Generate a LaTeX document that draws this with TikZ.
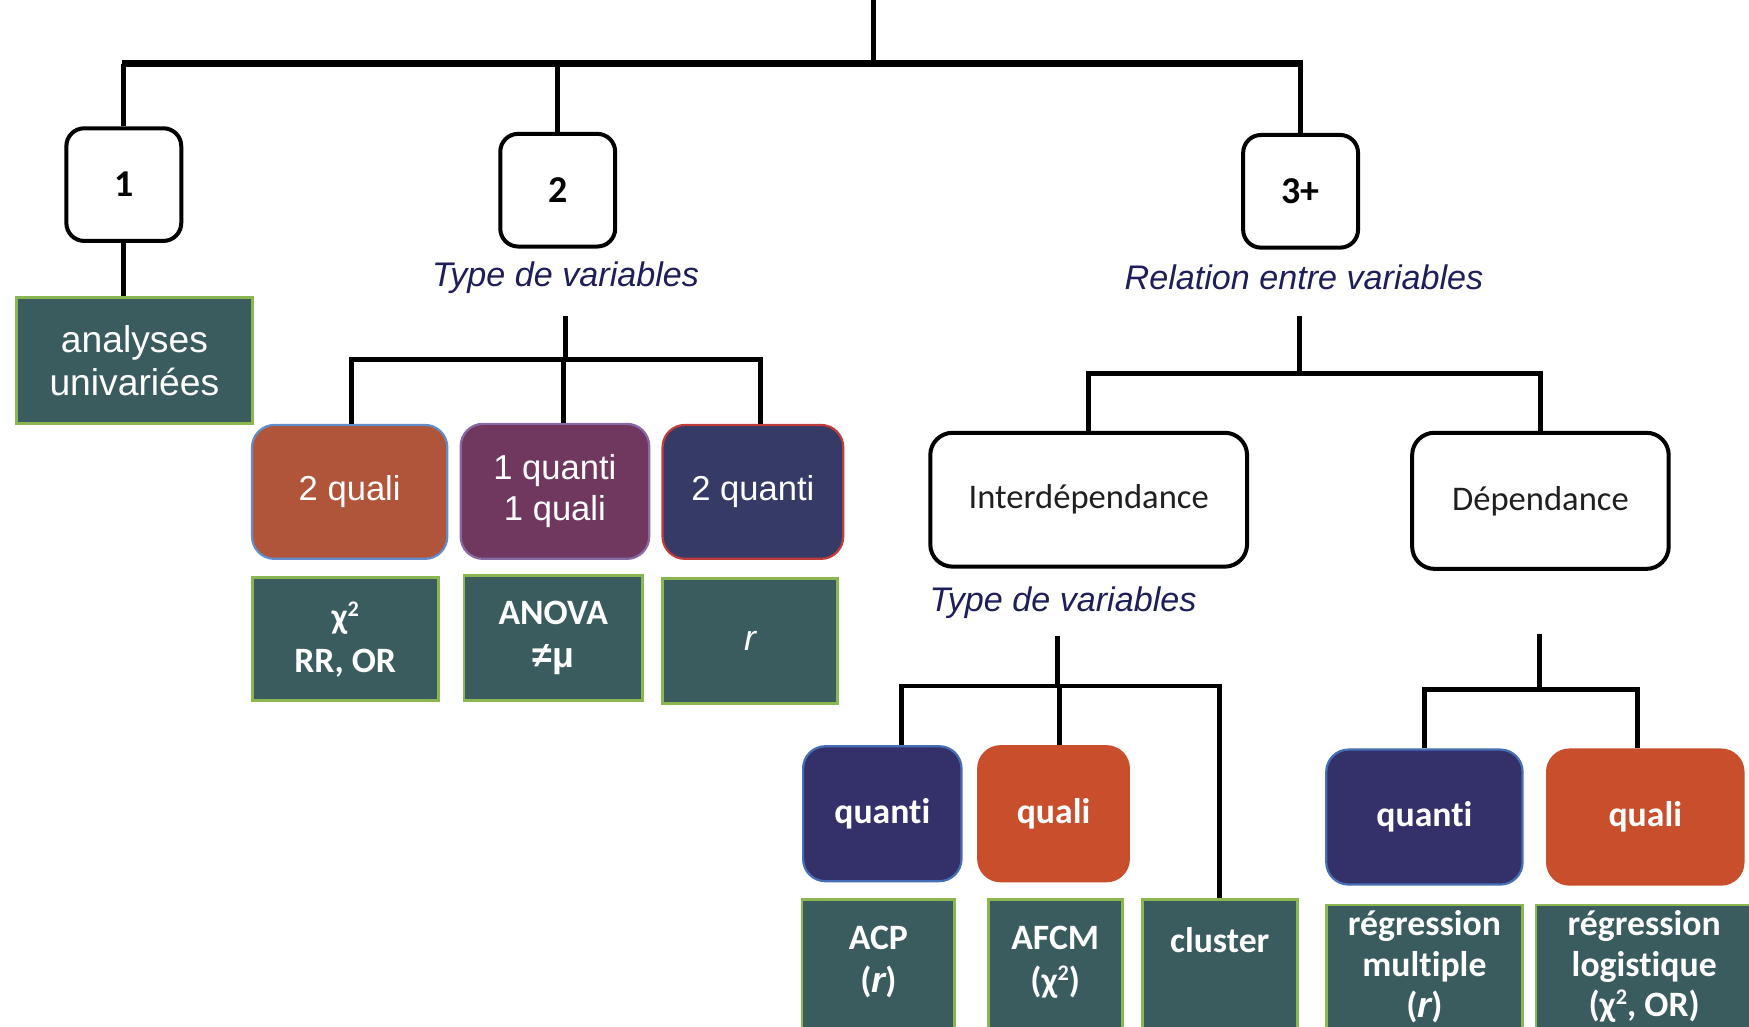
\documentclass[tikz,border=0pt]{standalone}
\usepackage{fontspec}
\setmainfont{Liberation Sans}
\newfontfamily\carl[Ligatures=NoCommon]{Carlito}
\definecolor{tealf}{RGB}{58,92,94}
\definecolor{tgreen}{RGB}{140,182,82}
\definecolor{cqlA}{RGB}{176,84,58}
\definecolor{cqlAb}{RGB}{100,140,200}
\definecolor{cmix}{RGB}{112,56,94}
\definecolor{cmixb}{RGB}{135,105,165}
\definecolor{cnavA}{RGB}{54,58,102}
\definecolor{cnavAb}{RGB}{190,60,60}
\definecolor{cnav}{RGB}{51,48,106}
\definecolor{cnavb}{RGB}{70,110,180}
\definecolor{corg}{RGB}{200,78,44}
\definecolor{labnavy}{RGB}{30,30,90}
\tikzset{
  wbox/.style={draw=black, line width=1.8pt, rounded corners=8pt, fill=white,
    font=\carl\bfseries\fontsize{17}{20}\selectfont, minimum width=51.5pt,
    minimum height=50.5pt, inner sep=0pt},
  wbig/.style={draw=black, line width=1.8pt, rounded corners=10pt, fill=white,
    text={black!88}, font=\carl\fontsize{15.5}{18}\selectfont, inner sep=0pt},
  tbox/.style={draw=tgreen, line width=1.3pt, fill=tealf, text=white,
    align=center, inner sep=0pt},
  tfont/.style={font=\carl\bfseries\fontsize{16}{19.5}\selectfont, text=white, align=center},
  cbox/.style={rounded corners=10pt, line width=1pt, text=white, align=center,
    inner sep=0pt, font=\fontsize{15.5}{18.5}\selectfont},
  dbox/.style={rounded corners=10pt, line width=1pt, text=white, align=center,
    inner sep=0pt, font=\carl\bfseries\fontsize{16}{19}\selectfont},
  lab/.style={font=\itshape\fontsize{15.3}{18}\selectfont, text=labnavy},
  conn/.style={line width=2.1pt},
  bar/.style={line width=3pt}
}
\begin{document}
\begin{tikzpicture}[x=0.5pt,y=-0.5pt]
\useasboundingbox (0,0) rectangle (1568,920);
\clip (0,0) rectangle (1568,920);
% level 1
\node[wbox] (b1) at (111,165.5) {1};
\node[wbox] (b2) at (500,170.5) {2};
\node[wbox] (b3) at (1166,171.5) {3+};
\coordinate (top) at (783,0);
\coordinate (tj) at (783,57);
\draw[conn] (top) -- (tj);
\draw[bar] ([xshift=-1pt]b1.north|-tj) -- ([xshift=1pt]b3.north|-tj);
\draw[conn] (b1.north|-tj) -- (b1.north);
\draw[conn] (b2.north|-tj) -- (b2.north);
\draw[conn] (b3.north|-tj) -- (b3.north);
% branch 1
\node[tbox, minimum width=105.5pt, minimum height=56.5pt,
  font=\fontsize{16.7}{19.5}\selectfont] (ana) at (120.5,323.5) {analyses\\univariées};
\draw[conn] (b1.south) -- (b1.south|-ana.north);
% branch 2
\node[lab] (tv1) at (507,249) {Type de variables};
\node[cbox, fill=cqlA, draw=cqlAb, minimum width=87.5pt, minimum height=60pt] (q2) at (313.5,441) {2 quali};
\node[cbox, fill=cmix, draw=cmixb, minimum width=84.5pt, minimum height=60.5pt] (q11) at (497.5,440.5) {1 quanti\\1 quali};
\node[cbox, fill=cnavA, draw=cnavAb, minimum width=81pt, minimum height=60pt] (qn2) at (675,441) {2 quanti};
\coordinate (t1a) at (507,283);
\coordinate (t1j) at (507,322);
\coordinate (t1l) at (315,322);
\coordinate (t1m) at (505,322);
\coordinate (t1r) at (682,322);
\draw[conn] (t1a) -- (t1j);
\draw[conn] ([xshift=-1pt]t1l) -- ([xshift=1pt]t1r);
\draw[conn] (t1l) -- (t1l|-q2.north);
\draw[conn] (t1m) -- (t1m|-q11.north);
\draw[conn] (t1r) -- (t1r|-qn2.north);
\node[tbox, tfont, minimum width=83.5pt, minimum height=55pt] (chi) at (309.5,573) {χ\raisebox{0.35em}{\fontsize{10}{10}\selectfont 2}\\RR, OR};
\node[tbox, tfont, minimum width=80pt, minimum height=56pt] (anova) at (496,572) {ANOVA\\{\rmfamily\bfseries ≠μ}};
\node[tbox, minimum width=78.5pt, minimum height=56pt, font=\fontsize{16}{19}\selectfont] (rr) at (672.5,575) {\itshape r};
% branch 3
\node[lab] (rel) at (1169,249) {Relation entre variables};
\node[wbig, minimum width=142pt, minimum height=60pt] (inter) at (976,448) {Interdépendance};
\node[wbig, minimum width=115pt, minimum height=61pt] (dep) at (1381,449) {Dépendance};
\coordinate (rv) at (1165,283);
\coordinate (rj) at (1165,335);
\draw[conn] (rv) -- (rj);
\draw[conn] (inter.north) -- (inter.north|-rj) -- (dep.north|-rj) -- (dep.north);
% interdependance
\node[lab] (tv2) at (953,540) {Type de variables};
\node[dbox, fill=cnav, draw=cnavb, minimum width=71pt, minimum height=60.5pt] (qt1) at (791,729.5) {quanti};
\node[dbox, fill=corg, draw=corg, minimum width=67.5pt, minimum height=60.5pt] (ql1) at (944.5,729.5) {quali};
\node[tbox, anchor=north, minimum width=68.5pt, minimum height=75pt] (acp) at (787.5,805) {};
\node[tbox, anchor=north, minimum width=60pt, minimum height=75pt] (afcm) at (946,805) {};
\node[tbox, anchor=north, minimum width=69.5pt, minimum height=75pt] (clu) at (1093.5,805) {};
\node[tfont] (acpt) at (787.5,862.5) {ACP\\({\rmfamily\itshape r})};
\node[tfont] (afcmt) at (946,862.5) {AFCM\\(χ\raisebox{0.35em}{\fontsize{10}{10}\selectfont 2})};
\node[tfont] (clut) at (1093.5,843) {cluster};
\coordinate (iv) at (948,570);
\coordinate (ij) at (948,615);
\coordinate (ia) at (808,615);
\coordinate (ib) at (950,615);
\draw[conn] (iv) -- (ij);
\draw[conn] ([xshift=-1pt]ia) -- ([xshift=1pt]clu.north|-ij);
\draw[conn] (ia) -- (ia|-qt1.north);
\draw[conn] (ib) -- (ib|-ql1.north);
\draw[conn] (clu.north|-ij) -- (clu.north);
% dependance
\node[dbox, fill=cnav, draw=cnavb, minimum width=88pt, minimum height=60.5pt] (qt2) at (1277,732.5) {quanti};
\node[dbox, fill=corg, draw=corg, minimum width=88pt, minimum height=60.5pt] (ql2) at (1475,732.5) {quali};
\node[tbox, anchor=north, minimum width=88pt, minimum height=70pt] (regm) at (1277,810) {};
\node[tbox, anchor=north, minimum width=97.5pt, minimum height=70pt] (regl) at (1474.5,810) {};
\node[tfont, font=\carl\bfseries\fontsize{16}{18.3}\selectfont] (regmt) at (1277,866.5) {régression\\multiple\\({\rmfamily\itshape r})};
\node[tfont, font=\carl\bfseries\fontsize{16}{18.3}\selectfont] (reglt) at (1474,866.5) {régression\\logistique\\(χ\raisebox{0.35em}{\fontsize{10}{10}\selectfont 2}, OR)};
\coordinate (dv) at (1380,568);
\coordinate (dj) at (1380,618);
\coordinate (dq) at (1468,618);
\draw[conn] (dv) -- (dj);
\draw[conn] ([xshift=-1pt]qt2.north|-dj) -- ([xshift=1pt]dq);
\draw[conn] (qt2.north|-dj) -- (qt2.north);
\draw[conn] (dq) -- (dq|-ql2.north);
\end{tikzpicture}
\end{document}
